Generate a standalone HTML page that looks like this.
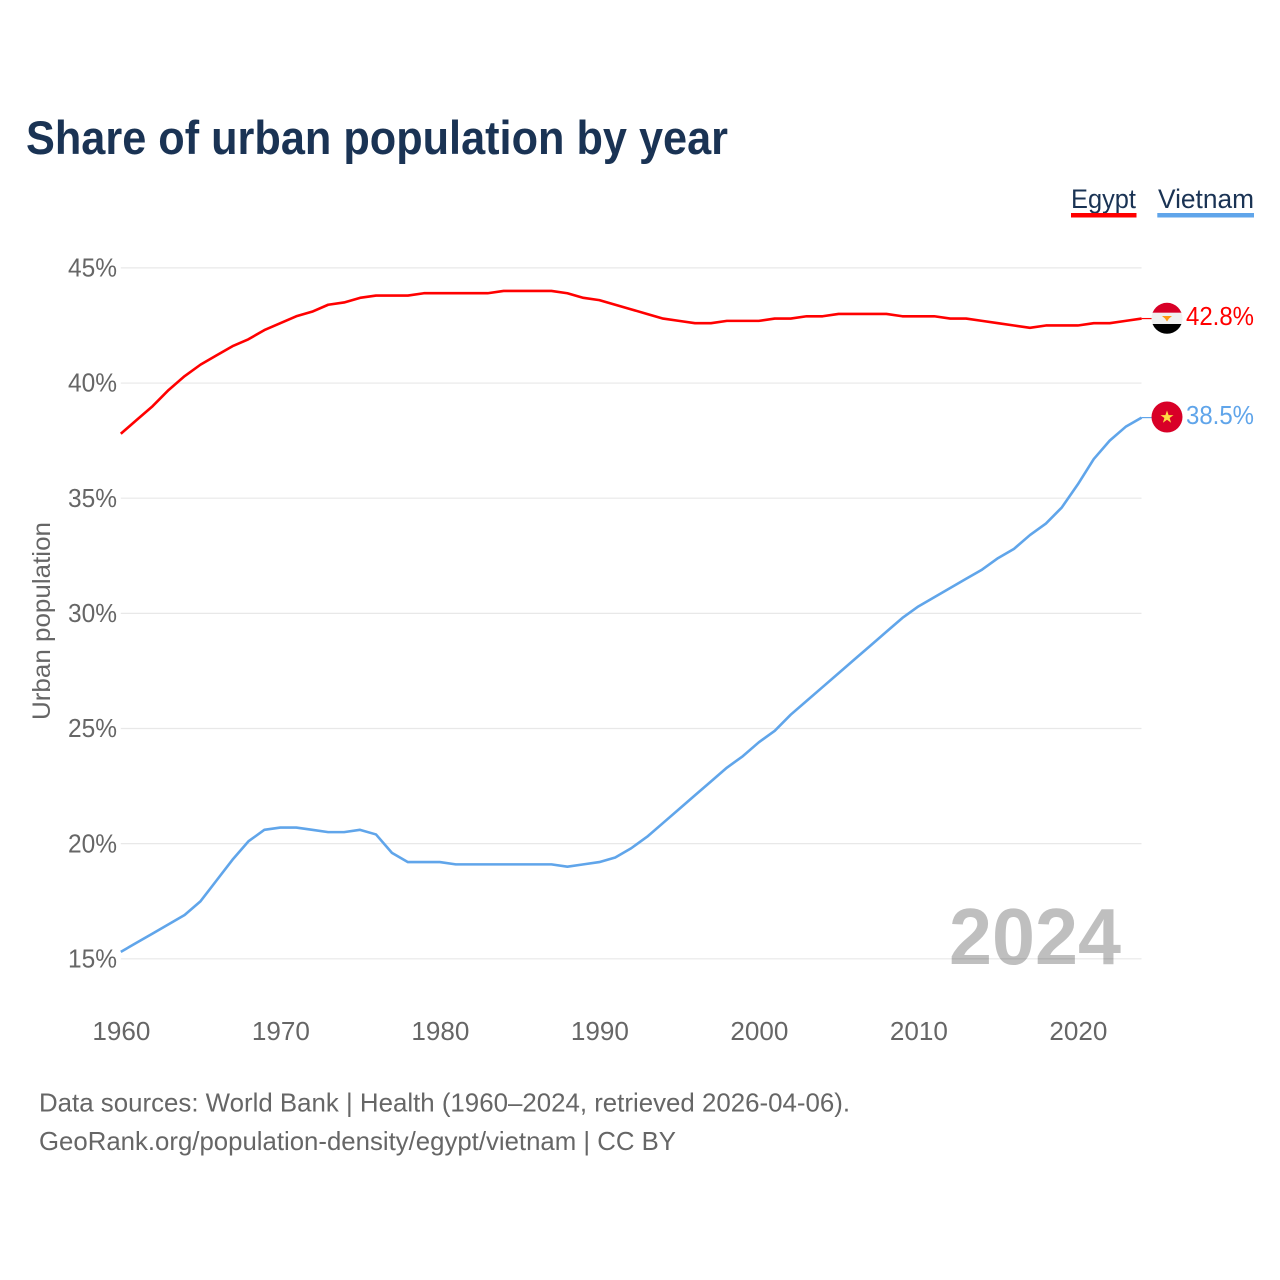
<!DOCTYPE html>
<html>
<head>
<meta charset="utf-8">
<title>Share of urban population by year</title>
<style>
html,body{margin:0;padding:0;background:#fff;}
svg{display:block;font-family:"Liberation Sans",sans-serif;}
</style>
</head>
<body>
<svg id="chart" width="1280" height="1280" viewBox="0 0 1280 1280" xmlns="http://www.w3.org/2000/svg">
<rect width="1280" height="1280" fill="#fff"/>
<text x="26" y="154" font-size="47" font-weight="700" fill="#1a3354" textLength="702" lengthAdjust="spacingAndGlyphs">Share of urban population by year</text>
<g id="gridlines"></g>
<g id="ytick-labels"></g>
<g id="xtick-labels"></g>
<text transform="translate(50,621) rotate(-90)" text-anchor="middle" font-size="25" fill="#666" textLength="198" lengthAdjust="spacingAndGlyphs">Urban population</text>
<text x="1121" y="964" text-anchor="end" font-size="80" font-weight="700" fill="#000" fill-opacity="0.25" textLength="172" lengthAdjust="spacingAndGlyphs">2024</text>
<g id="series"></g>

<g>
<text x="1071" y="208" font-size="27" fill="#1a3354" textLength="65" lengthAdjust="spacingAndGlyphs">Egypt</text>
<rect x="1071" y="213" width="65.5" height="4.5" fill="#ff0000"/>
</g>
<g>
<text x="1158" y="208" font-size="27" fill="#1a3354" textLength="96" lengthAdjust="spacingAndGlyphs">Vietnam</text>
<rect x="1157.3" y="213" width="96.7" height="4.5" fill="#60a5ea"/>
</g>

<defs>
<clipPath id="flag-clip"><circle cx="1167" cy="318.3" r="15.5"/></clipPath>
</defs>
<g clip-path="url(#flag-clip)">
<rect x="1151" y="302" width="32" height="10.8" fill="#d80027"/>
<rect x="1151" y="312.8" width="32" height="11.2" fill="#f0f0f0"/>
<rect x="1151" y="324" width="32" height="11" fill="#000"/>
<path d="M1162 316h10l-3 2.5-2 3-2-3z" fill="#ff9811"/>
</g>
<g>
<circle cx="1167" cy="417" r="15.5" fill="#d80027"/>
<path d="M1167 410.5l1.6 4.6h4.9l-3.9 2.9 1.5 4.7-4.1-2.9-4.1 2.9 1.5-4.7-3.9-2.9h4.9z" fill="#ffda44"/>
</g>
<text x="1186" y="325" font-size="26" fill="#ff0000" textLength="68" lengthAdjust="spacingAndGlyphs">42.8%</text>
<text x="1186" y="424" font-size="26" fill="#60a5ea" textLength="68" lengthAdjust="spacingAndGlyphs">38.5%</text>

<text x="39" y="1111.5" font-size="26" fill="#666" textLength="811" lengthAdjust="spacingAndGlyphs">Data sources: World Bank | Health (1960–2024, retrieved 2026-04-06).</text>
<text x="39" y="1150" font-size="26" fill="#666" textLength="637" lengthAdjust="spacingAndGlyphs">GeoRank.org/population-density/egypt/vietnam | CC BY</text>
</svg>
<script>
const startYear = 1960;
const yTicks = [15, 20, 25, 30, 35, 40, 45];
const xTicks = [1960, 1970, 1980, 1990, 2000, 2010, 2020];
const egypt = [37.8,38.4,39.0,39.7,40.3,40.8,41.2,41.6,41.9,42.3,42.6,42.9,43.1,43.4,43.5,43.7,43.8,43.8,43.8,43.9,43.9,43.9,43.9,43.9,44.0,44.0,44.0,44.0,43.9,43.7,43.6,43.4,43.2,43.0,42.8,42.7,42.6,42.6,42.7,42.7,42.7,42.8,42.8,42.9,42.9,43.0,43.0,43.0,43.0,42.9,42.9,42.9,42.8,42.8,42.7,42.6,42.5,42.4,42.5,42.5,42.5,42.6,42.6,42.7,42.8];
const vietnam = [15.3,15.7,16.1,16.5,16.9,17.5,18.4,19.3,20.1,20.6,20.7,20.7,20.6,20.5,20.5,20.6,20.4,19.6,19.2,19.2,19.2,19.1,19.1,19.1,19.1,19.1,19.1,19.1,19.0,19.1,19.2,19.4,19.8,20.3,20.9,21.5,22.1,22.7,23.3,23.8,24.4,24.9,25.6,26.2,26.8,27.4,28.0,28.6,29.2,29.8,30.3,30.7,31.1,31.5,31.9,32.4,32.8,33.4,33.9,34.6,35.6,36.7,37.5,38.1,38.5];

const NS = 'http://www.w3.org/2000/svg';
const plotLeft = 120.8, plotRight = 1141.5;
function xScale(year) { return 120.8 + (year - 1960) * 15.95; }
function yScale(pct) { return 958.8 - (pct - 15) * 23.03; }
function make(tag, attrs, parent, text) {
  const el = document.createElementNS(NS, tag);
  for (const k in attrs) el.setAttribute(k, attrs[k]);
  if (text !== undefined) el.textContent = text;
  parent.appendChild(el);
  return el;
}
const gridG = document.getElementById('gridlines');
const yG = document.getElementById('ytick-labels');
const xG = document.getElementById('xtick-labels');
const seriesG = document.getElementById('series');

yTicks.forEach(function (t) {
  const line = make('line', {x1: plotLeft, x2: plotRight, y1: yScale(t), y2: yScale(t), stroke: '#e8e8e8', 'stroke-width': 1.2}, gridG);
  
  
  const label = make('text', {x: 117, y: yScale(t) + 8.6, 'text-anchor': 'end', 'font-size': 26, fill: '#666', textLength: 49, lengthAdjust: 'spacingAndGlyphs'}, yG, t + '%');
  
  
});
xTicks.forEach(function (t) {
  const label = make('text', {x: xScale(t) + 0.6, y: 1040, 'text-anchor': 'middle', 'font-size': 26, fill: '#666', textLength: 58, lengthAdjust: 'spacingAndGlyphs'}, xG, String(t));
  
  
});
function drawSeries(values, color, name) {
  const pts = values.map(function (v, i) { return xScale(startYear + i) + ',' + yScale(v); });
  const line = make('polyline', {points: pts.join(' '), fill: 'none', stroke: color, 'stroke-width': 2.6, 'stroke-linejoin': 'round'}, seriesG);
  
  
  const lastY = yScale(values[values.length - 1]);
  const stub = make('line', {x1: xScale(startYear + values.length - 1), x2: 1152, y1: lastY, y2: lastY, stroke: color, 'stroke-width': 1.2}, seriesG);
  
  
}
drawSeries(egypt, '#ff0000', 'line-egypt');
drawSeries(vietnam, '#60a5ea', 'line-vietnam');
</script>
</body>
</html>
